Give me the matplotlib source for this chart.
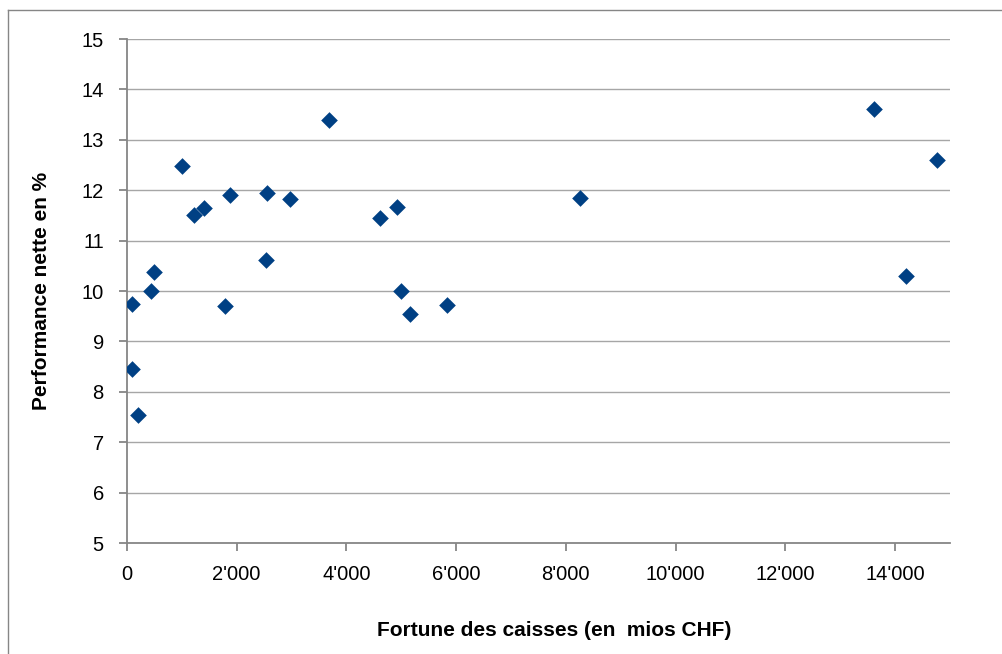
import matplotlib.pyplot as plt
from matplotlib.lines import Line2D

# Fortune (mios CHF) et performance nette (%)
fortune = [91, 102, 211, 442, 496, 1011, 1229, 1411, 1787, 1878,
           2533, 2564, 2975, 3678, 4618, 4920, 5000, 5164, 5836,
           8255, 13618, 14193, 14757]
performance = [8.46, 9.74, 7.55, 10.01, 10.38, 12.49, 11.50, 11.65, 9.70, 11.90,
               10.61, 11.95, 11.83, 13.40, 11.45, 11.67, 10.01, 9.55, 9.73,
               11.85, 13.61, 10.29, 12.60]

x_ticks = [0, 2000, 4000, 6000, 8000, 10000, 12000, 14000]
x_ticklabels = ["0", "2'000", "4'000", "6'000", "8'000", "10'000", "12'000", "14'000"]
y_ticks = [5, 6, 7, 8, 9, 10, 11, 12, 13, 14, 15]

plt.rcParams['font.family'] = ['Liberation Sans', 'DejaVu Sans']

fig = plt.figure(figsize=(10.02, 6.54), dpi=100)
ax = fig.add_axes([0.1265, 0.1697, 0.8217, 0.7706])

ax.scatter(fortune, performance, marker='D', s=72, color='#004084', zorder=3,
           linewidths=0)

ax.set_xlim(0, 15000)
ax.set_ylim(5, 15)
ax.set_xticks(x_ticks)
ax.set_xticklabels(x_ticklabels, fontsize=14.5)
ax.set_yticks(y_ticks)
ax.set_yticklabels([str(v) for v in y_ticks], fontsize=14.5)
ax.grid(axis='y', color='#a6a6a6', linewidth=1)
ax.set_axisbelow(True)

for side in ['top', 'right']:
    ax.spines[side].set_visible(False)
for side in ['left', 'bottom']:
    ax.spines[side].set_color('#868686')
    ax.spines[side].set_linewidth(1.3)
ax.tick_params(axis='both', colors='#868686', labelcolor='black', length=5.5, width=1.3)
ax.tick_params(axis='x', pad=10.5)
ax.tick_params(axis='y', pad=11)

ax.set_xlabel('Fortune des caisses (en  mios CHF)', fontsize=15, fontweight='bold', va='center')
ax.set_ylabel('Performance nette en %', fontsize=15, fontweight='bold', va='center')
ax.xaxis.set_label_coords(0.519, -0.1726)
ax.yaxis.set_label_coords(-0.104, 0.5)

# cadre du graphique
fig.add_artist(Line2D([8 / 1002, 8 / 1002], [0, 1 - 10 / 654], color='#868686', lw=1,
                      transform=fig.transFigure))
fig.add_artist(Line2D([8 / 1002, 1], [1 - 10 / 654, 1 - 10 / 654], color='#868686', lw=1,
                      transform=fig.transFigure))

fig.savefig('out.png', dpi=100)
